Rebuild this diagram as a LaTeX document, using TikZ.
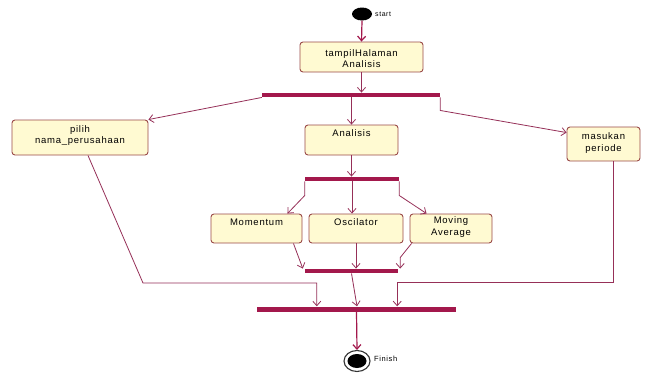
\documentclass[tikz,border=0pt]{standalone}
\usepackage{fontspec}
\setmainfont{Liberation Sans}[LetterSpace=8]
\usetikzlibrary{arrows.meta,calc,shapes.geometric}
\definecolor{barc}{HTML}{A3184C}
\definecolor{con}{HTML}{963058}
\definecolor{boxfill}{HTML}{FFFAD2}
\definecolor{boxline}{HTML}{9A4A48}
\begin{document}
\begin{tikzpicture}[x=1pt,y=-1pt,
 act/.style={draw=boxline,fill=boxfill,rounded corners=3pt,line width=0.9pt,inner sep=0pt},
 txt/.style={font=\fontsize{9.5}{11.5}\selectfont,align=center,inner sep=0pt},
 small/.style={font=\fontsize{7}{8}\selectfont,inner sep=0pt,anchor=west},
 barn/.style={fill=barc,draw=none,inner sep=0pt,minimum height=4.5pt},
 flow/.style={draw=con,line width=0.8pt,-{Straight Barb[length=4.5pt,width=8pt]}},
 thickflow/.style={flow,line width=1.2pt,draw=barc}]
\useasboundingbox[fill=white] (0,0) rectangle (648,376);

% start
\node[fill=black,ellipse,minimum width=20pt,minimum height=13pt,inner sep=0pt] (start) at (362,14) {};
\node[small] (startL) at (375,14) {start};

% activities
\node[act,minimum width=123pt,minimum height=30pt] (tampil) at (361.5,57) {};
\node[txt] (tampilT) at (361.5,58.5) {tampilHalaman\\Analisis};

\node[act,minimum width=136pt,minimum height=35pt] (pilih) at (80,137.5) {};
\node[txt] (pilihT) at (80,135.5) {pilih\\nama\_perusahaan};

\node[act,minimum width=93pt,minimum height=30pt] (analisis) at (351.5,140) {};
\node[txt] (analisisT) at (351.5,133) {Analisis};

\node[act,minimum width=73pt,minimum height=34pt] (masukan) at (603.5,144) {};
\node[txt] (masukanT) at (603.5,143) {masukan\\periode};

\node[act,minimum width=91pt,minimum height=29pt] (momentum) at (256.5,228.5) {};
\node[txt] (momentumT) at (256.5,222) {Momentum};

\node[act,minimum width=94pt,minimum height=29pt] (oscilator) at (356,228.5) {};
\node[txt] (oscilatorT) at (356,222) {Oscilator};

\node[act,minimum width=82pt,minimum height=29pt] (movavg) at (451,228.5) {};
\node[txt] (movavgT) at (451,227) {Moving\\Average};

% bars
\node[barn,minimum width=178pt] (bar1) at (351,95) {};
\node[barn,minimum width=94pt] (bar2) at (352,179) {};
\node[barn,minimum width=93pt] (bar3) at (351.5,271) {};
\node[barn,minimum width=199pt,minimum height=5pt] (bar4) at (356.5,309) {};

% finish
\node[draw=black!80,ellipse,line width=1.1pt,minimum width=26pt,minimum height=21pt,inner sep=0pt] (finish) at (357,361) {};
\node[fill=black,ellipse,minimum width=19pt,minimum height=14pt,inner sep=0pt] (finishIn) at (357,361) {};
\node[small,font=\fontsize{7.5}{8}\selectfont] (finishL) at (374,359) {Finish};

% connectors
\draw[thickflow] (start.south) -- (tampil.north);
\draw[flow] (tampil.south) -- (tampil.south |- bar1.north);

\draw[flow] (bar1.south west) -- (pilih.north east);
\draw[flow] (analisis.north |- bar1.south) -- (analisis.north);
\draw[flow] (bar1.south east) -- ++(0,13) -- ($(masukan.north west)+(0,6)$);

\draw[flow] (analisis.south) -- (analisis.south |- bar2.north);

\draw[flow] (bar2.south west) -- ++(0,14) -- ($(momentum.north east)+(-15,0)$);
\draw[flow] (bar2.south) -- (bar2.south |- oscilator.north);
\draw[flow] (bar2.south east) -- ++(0,14) -- ($(movavg.north west)+(17,0)$);

\draw[flow] ($(momentum.south east)+(-9,0)$) -- ($(bar3.north west)+(-2,0)$);
\draw[flow] (oscilator.south) -- (oscilator.south |- bar3.north);
\draw[flow] ($(movavg.south west)+(2,0)$) -- ($(bar3.north east)+(2,-11)$) -- ($(bar3.north east)+(2,0)$);

\draw[flow] (bar3.south) -- ($(bar4.north)+(0.5,0)$);

\coordinate (b4l) at ($(bar4.north west)+(60,0)$);
\coordinate (b4r) at ($(bar4.north east)+(-59,0)$);
\coordinate (pturn) at (143,283);
\draw[flow] ($(pilih.south)+(8,0)$) -- (pturn) -- (pturn -| b4l) -- (b4l);
\draw[flow] ($(masukan.south)+(9.5,0)$) |- ($(b4r)+(0,-23.5)$) -- (b4r);

\draw[thickflow] (bar4.south) -- (finish.north);
\end{tikzpicture}
\end{document}
